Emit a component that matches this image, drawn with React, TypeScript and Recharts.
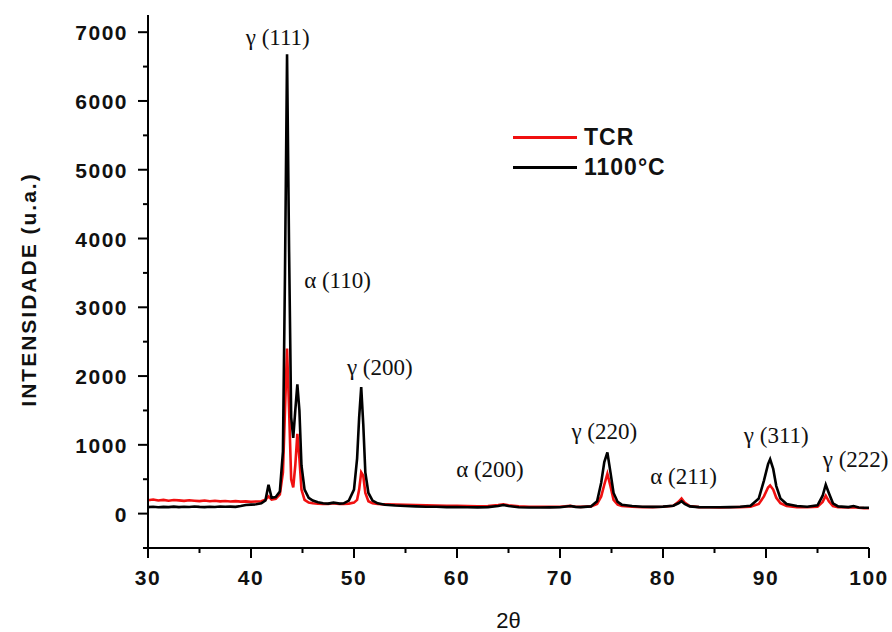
import {
  LineChart, Line, XAxis, YAxis, Legend, ReferenceDot, Label
} from 'recharts';

// 2-theta positions (deg) and intensities
const twoTheta = [
  30, 30.5, 31, 31.5, 32, 32.5, 33, 33.5, 34, 34.5, 35, 35.5, 36, 36.5, 37, 37.5, 38, 38.5, 39, 39.5,
  40, 40.5, 41, 41.4, 41.7, 42, 42.4, 42.8, 43.1, 43.3, 43.5, 43.7, 43.9, 44.1, 44.3, 44.5, 44.7, 44.9,
  45.2, 45.6, 46, 46.5, 47, 47.5, 48, 48.3, 48.6, 49, 49.5, 50, 50.3, 50.5, 50.7, 50.9, 51.1, 51.4, 51.8,
  52.3, 53, 54, 55, 56, 57, 58, 59, 60, 61, 62, 63, 64, 64.5, 65, 66, 67, 68, 69, 70, 71, 71.5, 72, 73,
  73.6, 74, 74.3, 74.6, 74.9, 75.2, 75.6, 76, 77, 78, 79, 80, 81, 81.5, 81.8, 82.1, 82.6, 83.5, 84.5,
  85.5, 86.5, 87.5, 88.5, 89.3, 89.8, 90.2, 90.4, 90.7, 91, 91.4, 92, 93, 94, 95, 95.5, 95.8, 96.1, 96.5,
  97, 98, 98.5, 99, 99.5, 100,
];

const tcr = [
  195, 205, 190, 200, 188, 198, 192, 185, 195, 188, 182, 190, 180, 186, 178, 184, 176, 182, 174, 178,
  172, 176, 180, 200, 250, 205, 215, 280, 600, 1500, 2400, 1500, 500, 380, 700, 1160, 800, 350,
  200, 160, 150, 145, 140, 142, 150, 145, 140, 140, 145, 160, 200, 350, 600, 550, 300, 180, 150,
  140, 135, 130, 128, 125, 122, 118, 115, 112, 110, 108, 110, 125, 135, 120, 105, 100, 100, 98, 100, 112, 100, 98, 105,
  140, 250, 420, 580, 400, 200, 130, 110, 100, 95, 95, 100, 115, 170, 220, 160, 110, 95, 92,
  90, 92, 95, 100, 140, 250, 380, 410, 350, 230, 150, 110, 95, 92, 100, 170, 260, 180, 110,
  92, 88, 92, 85, 80, 78,
];

const c1100 = [
  95, 100, 92, 98, 95, 102, 94, 100, 96, 103, 98, 95, 100, 97, 104, 99, 102, 98, 110, 125,
  130, 135, 150, 190, 420, 230, 240, 320, 900, 3500, 6680, 3800, 1400, 1100, 1500, 1880, 1500, 700,
  350, 230, 190, 165, 150, 145, 160, 155, 145, 150, 190, 350, 800, 1400, 1840, 1300, 600, 300, 190,
  150, 130, 118, 110, 105, 100, 100, 95, 95, 92, 90, 95, 110, 125, 110, 92, 88, 88, 90, 92, 110, 98, 95, 105,
  180, 450, 750, 890, 600, 300, 170, 130, 110, 100, 98, 102, 115, 150, 180, 140, 105, 95, 92,
  92, 95, 100, 115, 220, 480, 720, 790, 650, 400, 220, 140, 110, 100, 120, 260, 420, 300, 150,
  105, 95, 110, 90, 85, 85,
];

const xMajor = [30, 40, 50, 60, 70, 80, 90, 100];
const xMinor = [35, 45, 55, 65, 75, 85, 95];
const yMajor = [0, 1000, 2000, 3000, 4000, 5000, 6000, 7000];
const yMinor = [-500, 500, 1500, 2500, 3500, 4500, 5500, 6500];

const peakNames = ['γ (111)', 'α (110)', 'γ (200)', 'α (200)', 'γ (220)', 'α (211)', 'γ (311)', 'γ (222)'];
const peakX = [42.6, 48.4, 52.5, 63.2, 74.3, 82.0, 91.0, 98.7];
const peakY = [6930, 3400, 2130, 656, 1210, 554, 1150, 800];

const series = [
  { key: 'tcr', name: 'TCR', color: '#f01010' },
  { key: 'c1100', name: '1100°C', color: '#000000' },
];

const rows = twoTheta.map((t, i) => ({ t, tcr: tcr[i], c1100: c1100[i] }));

const SANS = '"Liberation Sans", Arial, sans-serif';
const SERIF = '"Liberation Serif", "Times New Roman", serif';

const XTick = (props: any) => {
  const { x, y, payload } = props;
  const major = xMajor.includes(payload.value);
  return (
    <g>
      <line x1={x} x2={x} y1={y} y2={y + (major ? 10 : 5)} stroke="#000" strokeWidth={2} />
      {major && (
        <text x={x} y={y + 37} textAnchor="middle" fontFamily={SANS} fontWeight="bold"
          fontSize={21} letterSpacing={1.5} fill="#111">{payload.value}</text>
      )}
    </g>
  );
};

const YTick = (props: any) => {
  const { x, y, payload } = props;
  const major = yMajor.includes(payload.value);
  return (
    <g>
      <line x1={x} x2={x - (major ? 10 : 5)} y1={y} y2={y} stroke="#000" strokeWidth={2} />
      {major && (
        <text x={x - 20} y={y + 8} textAnchor="end" fontFamily={SANS} fontWeight="bold"
          fontSize={21} letterSpacing={1.5} fill="#111">{payload.value}</text>
      )}
    </g>
  );
};

const LegendBox = () => (
  <div style={{ fontFamily: SANS, fontWeight: 'bold', fontSize: 23, letterSpacing: 1 }}>
    {series.map((s) => (
      <div key={s.key} style={{ display: 'flex', alignItems: 'center', height: 30 }}>
        <div style={{ width: 64, height: 3, background: s.color, marginRight: 7 }} />
        <span style={{ color: '#111' }}>{s.name}</span>
      </div>
    ))}
  </div>
);

export default function App() {
  return (
    <div style={{ position: 'absolute', left: 0, top: 0, width: 892, height: 632, background: '#fff' }}>
      <LineChart width={892} height={632} data={rows}
        margin={{ top: 15, right: 23, bottom: 0, left: 0 }}>
        <XAxis dataKey="t" type="number" domain={[30, 100]} ticks={[...xMajor, ...xMinor]}
          interval={0} height={84} tickSize={0} tickMargin={0} tickLine={false}
          axisLine={{ stroke: '#000', strokeWidth: 2 }} tick={<XTick />}>
          <Label content={({ viewBox }: any) => (
            <text x={viewBox.x + viewBox.width / 2} y={viewBox.y + 80} textAnchor="middle"
              fontFamily={SANS} fontSize={22} fill="#111">2θ</text>
          )} />
        </XAxis>
        <YAxis type="number" domain={[-500, 7250]} ticks={[...yMajor, ...yMinor]}
          interval={0} width={148} tickSize={0} tickMargin={0} tickLine={false}
          axisLine={{ stroke: '#000', strokeWidth: 2 }} tick={<YTick />} allowDataOverflow>
          <Label content={({ viewBox }: any) => {
            const cx = viewBox.x + 28;
            const cy = viewBox.y + viewBox.height / 2 + 8;
            return (
              <text x={cx} y={cy} transform={`rotate(-90 ${cx} ${cy})`} textAnchor="middle"
                dominantBaseline="central" fontFamily={SANS} fontWeight="bold" fontSize={21}
                letterSpacing={2} fill="#111">INTENSIDADE (u.a.)</text>
            );
          }} />
        </YAxis>
        <Legend layout="vertical" align="center" verticalAlign="middle" content={<LegendBox />}
          wrapperStyle={{ position: 'absolute', left: 513, top: 122, width: 220, height: 60 }} />
        {series.map((s) => (
          <Line key={s.key} type="linear" dataKey={s.key} name={s.name} stroke={s.color}
            strokeWidth={2.6} dot={false} isAnimationActive={false} />
        ))}
        {peakNames.map((n, i) => (
          <ReferenceDot key={n} x={peakX[i]} y={peakY[i]} r={0} fill="none" stroke="none"
            label={{ value: n, position: 'center', fontFamily: SERIF, fontSize: 23, fill: '#111' }} />
        ))}
      </LineChart>
    </div>
  );
}
